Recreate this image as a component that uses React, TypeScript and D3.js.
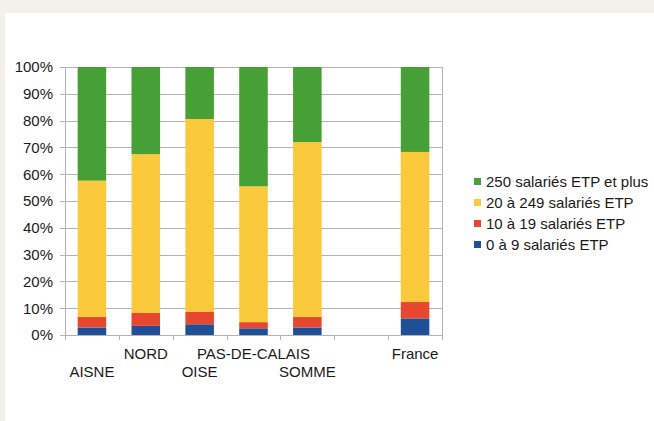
import React, { useEffect, useRef } from "react";
import * as d3 from "d3";

const categories = ["AISNE", "NORD", "OISE", "PAS-DE-CALAIS", "SOMME", "", "France"];
const series = [
  "0 à 9 salariés ETP",
  "10 à 19 salariés ETP",
  "20 à 249 salariés ETP",
  "250 salariés ETP et plus",
];
const colors = ["#1f4f97", "#e8472f", "#fbc93c", "#46a035"];

// percentages per category, in the order of the series
const small = [2.8, 3.4, 4.0, 2.5, 2.8, 0, 6.2];
const smallMid = [3.9, 4.8, 4.6, 2.3, 3.9, 0, 6.1];
const medium = [50.9, 59.3, 72.0, 50.7, 65.3, 0, 56.0];
const large = [42.4, 32.5, 19.4, 44.5, 28.0, 0, 31.7];
const yTicks = [0, 10, 20, 30, 40, 50, 60, 70, 80, 90, 100];

const W = 654;
const H = 421;
const margin = { top: 67, right: 212, bottom: 86, left: 65 };

const App = () => {
  const svgRef = useRef<SVGSVGElement>(null);

  useEffect(() => {
    const svg = d3.select(svgRef.current);
    svg.selectAll("*").remove();

    const font = "'Liberation Sans', Arial, sans-serif";
    const fs = 15;
    const ink = "#1a1a1a";

    // page frame
    svg.append("rect").attr("width", W).attr("height", H).attr("fill", "#f3f2ea");
    svg.append("rect").attr("x", 5).attr("y", 13).attr("width", W - 5).attr("height", H - 13).attr("fill", "#ffffff");

    const width = W - margin.left - margin.right;
    const height = H - margin.top - margin.bottom;

    const x = d3.scaleBand().domain(categories.map((c, i) => String(i))).range([0, width]).paddingInner(0).paddingOuter(0);
    const y = d3.scaleLinear().domain([0, 100]).range([height, 0]);

    const g = svg.append("g").attr("transform", `translate(${margin.left},${margin.top})`);

    // grid
    g.selectAll(".grid")
      .data(yTicks)
      .enter()
      .append("line")
      .attr("x1", -5)
      .attr("x2", width)
      .attr("y1", (d) => Math.round(y(d)) + 0.5)
      .attr("y2", (d) => Math.round(y(d)) + 0.5)
      .attr("stroke", "#b3b3b3")
      .attr("stroke-width", 1);

    // axis lines
    g.append("line").attr("x1", 0.5).attr("x2", 0.5).attr("y1", 0).attr("y2", height + 5).attr("stroke", "#b3b3b3");
    g.append("line").attr("x1", width + 0.5).attr("x2", width + 0.5).attr("y1", 0).attr("y2", height + 5).attr("stroke", "#b3b3b3");
    categories.forEach((c, i) => {
      if (i === 0) return;
      const xx = Math.round(x(String(i))!) + 0.5;
      g.append("line").attr("x1", xx).attr("x2", xx).attr("y1", height).attr("y2", height + 5).attr("stroke", "#b3b3b3");
    });

    // y labels
    g.selectAll(".ylab")
      .data(yTicks)
      .enter()
      .append("text")
      .attr("x", -12)
      .attr("y", (d) => y(d))
      .attr("dy", "0.36em")
      .attr("text-anchor", "end")
      .attr("font-family", font)
      .attr("font-size", fs)
      .attr("fill", ink)
      .text((d) => `${d}%`);

    // stacked bars
    const rows = categories.map((c, i) => ({ key: String(i), v: [small[i], smallMid[i], medium[i], large[i]] }));
    const stack = d3
      .stack<{ key: string; v: number[] }>()
      .keys(["0", "1", "2", "3"])
      .value((d, k) => d.v[+k]);
    const stacked = stack(rows);
    const barW = x.bandwidth() * 0.53;

    stacked.forEach((layer, si) => {
      g.selectAll(`.s${si}`)
        .data(layer)
        .enter()
        .append("rect")
        .attr("x", (d) => x(d.data.key)! + (x.bandwidth() - barW) / 2)
        .attr("y", (d) => y(d[1]))
        .attr("width", barW)
        .attr("height", (d) => y(d[0]) - y(d[1]))
        .attr("fill", colors[si]);
    });

    // x labels, staggered
    categories.forEach((c, i) => {
      if (!c) return;
      const lower = i % 2 === 0 && i !== 6;
      g.append("text")
        .attr("x", x(String(i))! + x.bandwidth() / 2)
        .attr("y", height + (lower ? 42 : 24))
        .attr("text-anchor", "middle")
        .attr("font-family", font)
        .attr("font-size", fs)
        .attr("fill", ink)
        .text(c);
    });

    // legend
    const legendItems = [3, 2, 1, 0];
    const legend = svg.append("g").attr("transform", "translate(474,182)");
    legendItems.forEach((si, r) => {
      legend.append("rect").attr("x", 0).attr("y", r * 21 - 4).attr("width", 7).attr("height", 7).attr("fill", colors[si]);
      legend
        .append("text")
        .attr("x", 12)
        .attr("y", r * 21)
        .attr("dy", "0.36em")
        .attr("font-family", font)
        .attr("font-size", fs)
        .attr("fill", ink)
        .text(series[si]);
    });
  }, []);

  return (
    <svg ref={svgRef} width={W} height={H} style={{ position: "absolute", left: 0, top: 0, display: "block" }} />
  );
};

export default App;
